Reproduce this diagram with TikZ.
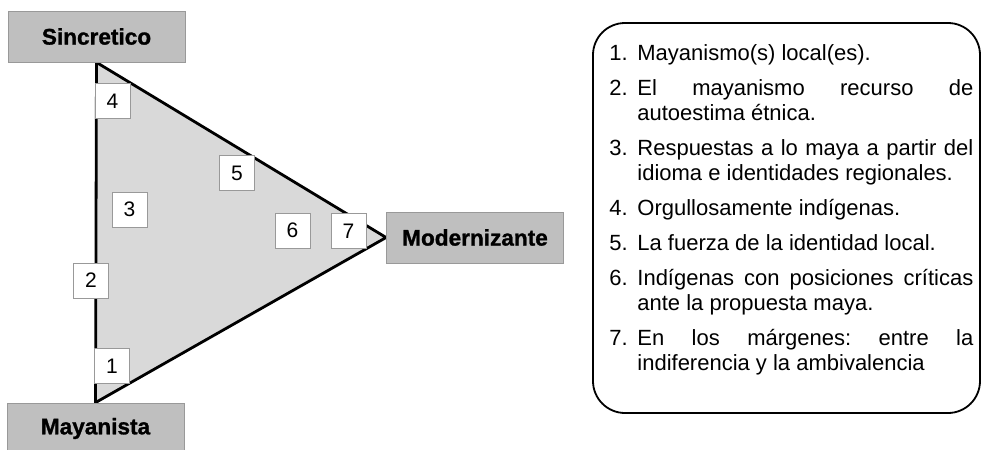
\documentclass[tikz,border=0pt]{standalone}
\usepackage{fontspec}
\setmainfont{Liberation Sans}
\newfontfamily\polefont[FakeBold=1.2]{Liberation Sans Bold}
\usepackage{enumitem}
\usetikzlibrary{positioning,backgrounds}
\definecolor{boxgray}{gray}{0.75}
\definecolor{trigray}{gray}{0.85}
\tikzset{
  pole/.style={draw=gray!80, fill=boxgray, minimum width=88.5pt, minimum height=25.5pt, inner sep=0pt, font=\fontsize{11.3}{13}\polefont},
  numbox/.style={draw=gray!80, fill=white, minimum width=17.5pt, minimum height=17.5pt, inner sep=0pt, font=\fontsize{10.5}{12}\selectfont},
}
\begin{document}
\begin{tikzpicture}[x=0.5pt,y=-0.5pt]
\useasboundingbox (0,0) rectangle (982,450);
\node[pole] (sinc) at (96.5,36.5) {Sincretico};
\node[pole] (maya) at (95.5,428.5) {Mayanista};
\node[pole] (mod) at (475,237.5) {Modernizante};
\begin{scope}[on background layer]
  \filldraw[fill=trigray, line width=1.4pt] (sinc.south) -- (mod.west) -- (maya.north) -- cycle;
\end{scope}
\node[numbox] (n4) at (112.5,101) {4};
\node[numbox] (n3) at (129.5,209.5) {3};
\node[numbox] (n5) at (237,173) {5};
\node[numbox] (n2) at (91,280.5) {2};
\node[numbox] (n6) at (292.5,230.5) {6};
\node[numbox] (n7) at (348.5,231) {7};
\node[numbox] (n1) at (112,366) {1};
% recuadro con la lista
\draw[line width=0.9pt, rounded corners=16pt] (593,23) rectangle (980,413);
\node[anchor=north west, inner sep=0pt, text width=182pt, align=justify, font=\fontsize{11}{12.5}\selectfont] (lista) at (609,35) {%
  \hyphenpenalty=10000 \exhyphenpenalty=10000 \frenchspacing
  \begin{enumerate}[label=\arabic*., leftmargin=14pt, labelindent=0pt, labelwidth=10pt, labelsep=4pt, align=left, topsep=0pt, partopsep=0pt, parsep=0pt, itemsep=5pt]
    \item Mayanismo(s) local(es).
    \item El mayanismo recurso de autoestima étnica.
    \item Respuestas a lo maya a partir del idioma e identidades regionales.
    \item Orgullosamente indígenas.
    \item La fuerza de la identidad local.
    \item Indígenas con posiciones críticas ante la propuesta maya.
    \item En los márgenes: entre la indiferencia y la ambivalencia
  \end{enumerate}};
\end{tikzpicture}
\end{document}
